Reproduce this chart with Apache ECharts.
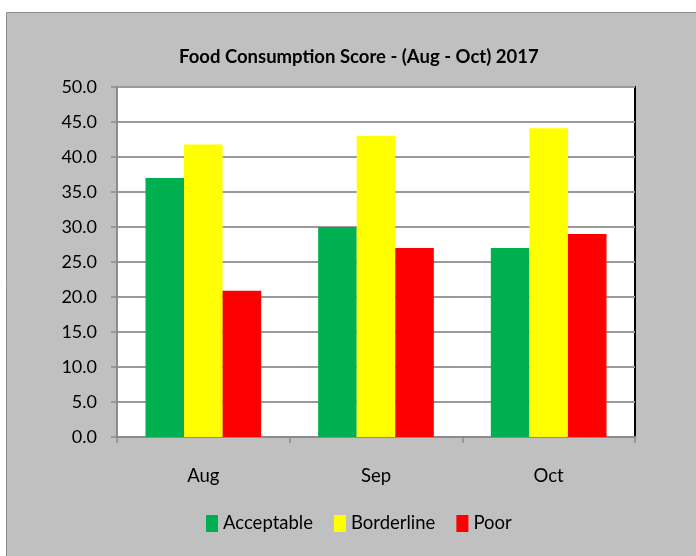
<!DOCTYPE html>
<html>
<head>
<meta charset="utf-8">
<script src="https://cdn.jsdelivr.net/npm/echarts@6/dist/echarts.min.js"></script>
<style>
html,body{margin:0;padding:0;background:#fff;}
#c{width:696px;height:556px;}
</style>
</head>
<body>
<div id="c"></div>
<script>
const titleText = 'Food Consumption Score - (Aug - Oct) 2017';
const categories = ['Aug', 'Sep', 'Oct'];
const acceptable = [37.0, 30.0, 27.0];
const borderline = [41.8, 43.0, 44.1];
const poor = [20.9, 27.0, 29.0];
const seriesNames = ['Acceptable', 'Borderline', 'Poor'];
const seriesColors = ['#00B050', '#FFFF00', '#FF0000'];
const yMin = 0, yMax = 50, yStep = 5;

const FONT = 'Lato';
const chart = echarts.init(document.getElementById('c'), null, {renderer: 'canvas'});
const values = [acceptable, borderline, poor];

chart.setOption({
  backgroundColor: '#ffffff',
  animation: false,
  graphic: [{
    type: 'rect',
    z: -10,
    shape: {x: 6.5, y: 12.5, width: 720, height: 600},
    style: {fill: '#c0c0c0', stroke: '#8c8c8c', lineWidth: 1}
  }],
  title: {
    text: titleText,
    left: 179,
    top: 48,
    padding: 0,
    textStyle: {fontFamily: FONT, fontWeight: 'bold', fontSize: 18.5, color: '#000'}
  },
  legend: {
    data: seriesNames,
    left: 206,
    top: 514,
    padding: 0,
    itemWidth: 12,
    itemHeight: 17,
    itemGap: 21,
    icon: 'rect',
    textStyle: {fontFamily: FONT, fontSize: 18.5, color: '#000'}
  },
  grid: {
    left: 117, top: 87, right: 61, bottom: 119,
    outerBoundsMode: 'none',
    containLabel: false,
    show: true,
    backgroundColor: '#ffffff',
    borderColor: '#000000',
    borderWidth: 2
  },
  xAxis: {
    type: 'category',
    data: categories,
    axisLine: {lineStyle: {color: '#8c8c8c', width: 2}},
    axisTick: {show: true, length: 6, alignWithLabel: false, lineStyle: {color: '#8c8c8c', width: 1.5}},
    axisLabel: {margin: 30, fontFamily: FONT, fontSize: 18.5, color: '#000'},
    splitLine: {show: false}
  },
  yAxis: {
    type: 'value',
    min: yMin, max: yMax, interval: yStep,
    axisLine: {show: true, lineStyle: {color: '#8c8c8c', width: 2}},
    axisTick: {show: true, length: 6, lineStyle: {color: '#8c8c8c', width: 1.5}},
    axisLabel: {margin: 20, fontFamily: FONT, fontSize: 18, color: '#000', formatter: v => v.toFixed(1)},
    splitLine: {show: true, lineStyle: {color: '#9a9a9a', width: 2}}
  },
  series: seriesNames.map((n, i) => ({
    name: n,
    type: 'bar',
    data: values[i],
    barGap: '0%',
    barCategoryGap: '33%',
    itemStyle: {color: seriesColors[i]}
  }))
});
</script>
</body>
</html>
